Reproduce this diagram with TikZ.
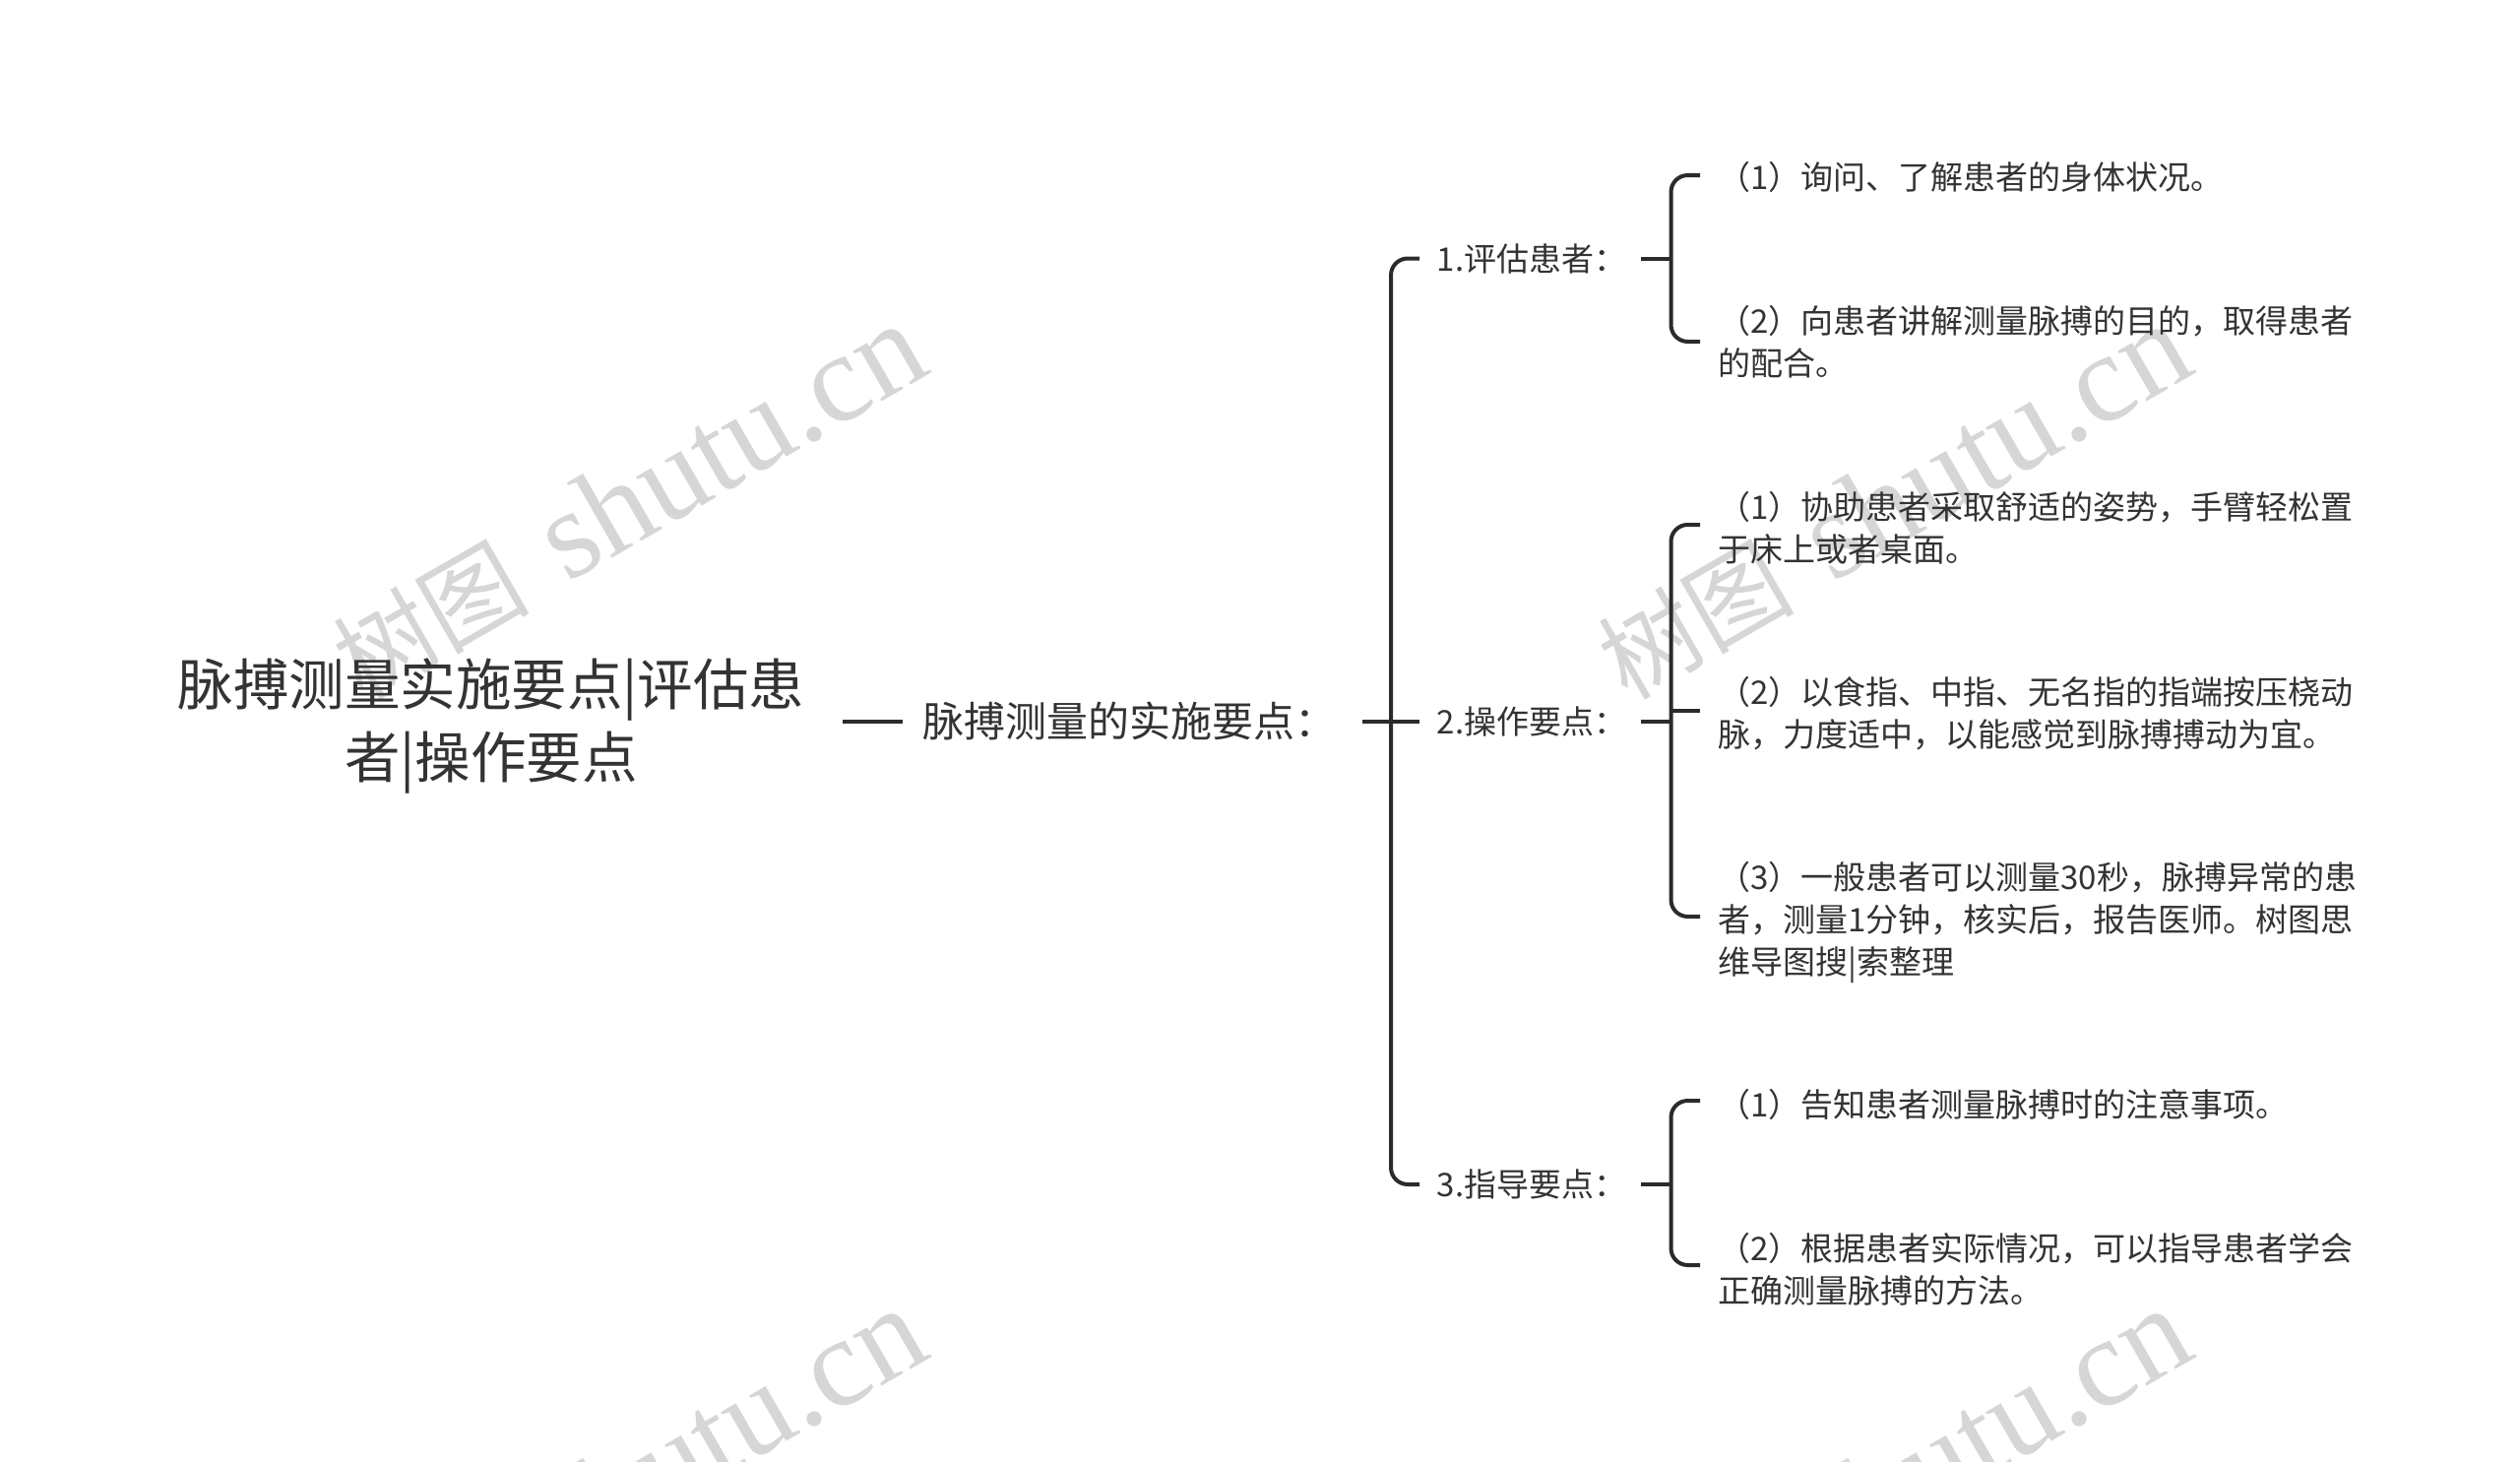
\documentclass[tikz,border=0pt]{standalone}
\usepackage{fontspec}
\setmainfont{Noto Sans CJK SC}
\newfontfamily\wmlat{Liberation Serif}
\definecolor{ink}{HTML}{333333}
\definecolor{wire}{HTML}{2B2B2B}
\definecolor{wm}{HTML}{D6D6D6}
\tikzset{
  every node/.style={text=ink},
  rootbox/.style={align=center,inner xsep=0pt,inner ysep=0pt,text width=714pt,font=\fontsize{56.5}{74}\selectfont},
  mainbox/.style={align=left,anchor=west,inner xsep=20pt,inner ysep=0pt,text width=427pt,font=\fontsize{42}{50}\selectfont},
  midbox/.style={align=left,anchor=west,inner xsep=17.5pt,inner ysep=0pt,text width=190pt,font=\fontsize{33}{40}\selectfont},
  leafbox/.style={align=left,anchor=west,inner xsep=18pt,inner ysep=0pt,font=\fontsize{33}{42.8}\selectfont},
  wirepath/.style={draw=wire,line width=4pt,rounded corners=17pt},
  stamp/.style={text=wm,rotate=30,anchor=base west,inner sep=0pt}
}
\newcommand{\wmtext}{{\fontsize{100}{130}\selectfont 树图}\hspace{40pt}{\wmlat\fontsize{128}{130}\selectfont shutu.cn}}
\begin{document}
\begin{tikzpicture}[x=1pt,y=-1pt]
\useasboundingbox (0,0) rectangle (2560,1485);
\clip (0,0) rectangle (2560,1485);
\fill[white] (0,0) rectangle (2560,1485);
% watermarks
\node[stamp] (w1) at (368,713) {\wmtext};
\node[stamp] (w2) at (1653,713) {\wmtext};
\node[stamp] (w3) at (368,1713) {\wmtext};
\node[stamp] (w4) at (1653,1713) {\wmtext};
% nodes
\node[rootbox] (root) at (499,737) {脉搏测量实施要点|评估患\\者|操作要点};
\node[mainbox] (main) at (917,732.5) {脉搏测量的实施要点：};
\node[midbox] (m1) at (1442,262.5) {1.评估患者：};
\node[midbox] (m2) at (1442,732.5) {2.操作要点：};
\node[midbox] (m3) at (1442,1203) {3.指导要点：};
\node[leafbox] (l11) at (1727,180) {（1）询问、了解患者的身体状况。};
\node[leafbox] (l12) at (1727,347) {（2）向患者讲解测量脉搏的目的，取得患者\\的配合。};
\node[leafbox] (l21) at (1727,536) {（1）协助患者采取舒适的姿势，手臂轻松置\\于床上或者桌面。};
\node[leafbox] (l22) at (1727,725) {（2）以食指、中指、无名指的指端按压桡动\\脉，力度适中，以能感觉到脉搏搏动为宜。};
\node[leafbox] (l23) at (1727,937) {（3）一般患者可以测量30秒，脉搏异常的患\\者，测量1分钟，核实后，报告医师。树图思\\维导图搜|索整理};
\node[leafbox] (l31) at (1727,1122) {（1）告知患者测量脉搏时的注意事项。};
\node[leafbox] (l32) at (1727,1289.5) {（2）根据患者实际情况，可以指导患者学会\\正确测量脉搏的方法。};
\coordinate (t) at (1413,732.5);
\coordinate (g1) at (1697.5,262.5);
\coordinate (g2) at (1697.5,732.5);
\coordinate (g3) at (1697.5,1203);
\coordinate (b22) at ([yshift=3pt]l22.west);
% connectors
\draw[wirepath] (root.east |- main.west) -- (main.west);
\draw[wirepath] (main.east) -- (m2.west);
\draw[wirepath] (m1.west) -| (t) |- (m3.west);
\draw[wirepath] (m1.east) -- (g1);
\draw[wirepath] (m2.east) -- (g2);
\draw[wirepath] (m3.east) -- (g3);
\draw[wirepath] ([yshift=2pt]l11.west) -| (g1) |- (l12.west);
\draw[wirepath] ([yshift=3pt]l21.west) -| (g2) |- ([yshift=6pt]l23.west);
\draw[wirepath] (g2 |- b22) -- (b22);
\draw[wirepath] ([yshift=4pt]l31.west) -| (g3) |- ([yshift=4.5pt]l32.west);
\end{tikzpicture}
\end{document}
